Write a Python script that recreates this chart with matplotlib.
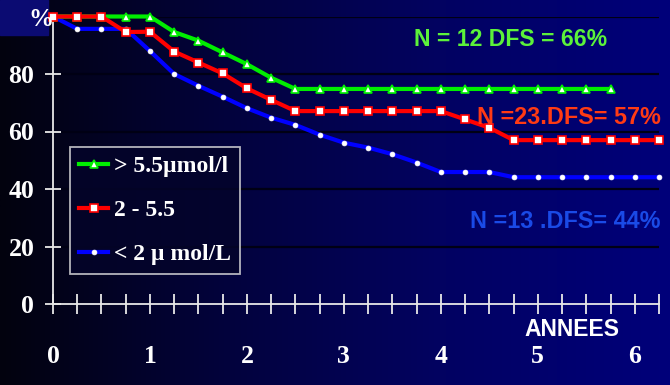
import numpy as np
import matplotlib.pyplot as plt
from matplotlib.colors import LinearSegmentedColormap
from matplotlib.patches import Rectangle

# survival data, read every 0.25 year
years_green = [0, 0.25, 0.5, 0.75, 1, 1.25, 1.5, 1.75, 2, 2.25, 2.5, 2.75, 3, 3.25, 3.5,
               3.75, 4, 4.25, 4.5, 4.75, 5, 5.25, 5.5, 5.75]
dfs_green = [100, 100, 100, 100, 100, 94.6, 91.6, 87.5, 83.4, 78.7, 74.8, 74.8, 74.8, 74.8, 74.8,
             74.8, 74.8, 74.8, 74.8, 74.8, 74.8, 74.8, 74.8, 74.8]

years_red = [0, 0.25, 0.5, 0.75, 1, 1.25, 1.5, 1.75, 2, 2.25, 2.5, 2.75, 3, 3.25, 3.5,
             3.75, 4, 4.25, 4.5, 4.75, 5, 5.25, 5.5, 5.75, 6, 6.25]
dfs_red = [100, 100, 100, 94.6, 94.7, 87.8, 84.0, 80.2, 75.0, 71.0, 67.1, 67.1, 67.1, 67.1, 67.1,
           67.1, 67.1, 64.2, 61.3, 57.0, 57.0, 57.0, 57.0, 57.0, 57.0, 57.0]

years_blue = [0, 0.25, 0.5, 0.75, 1, 1.25, 1.5, 1.75, 2, 2.25, 2.5, 2.75, 3, 3.25, 3.5,
              3.75, 4, 4.25, 4.5, 4.75, 5, 5.25, 5.5, 5.75, 6, 6.25]
dfs_blue = [100, 95.7, 95.7, 95.7, 88.0, 80.0, 75.9, 72.1, 68.1, 64.8, 62.3, 58.9, 56.1, 54.4, 52.1,
            49.2, 45.9, 45.9, 45.9, 44.1, 44.1, 44.1, 44.1, 44.1, 44.1, 44.1]

labels = ['> 5.5\u00b5mol/l', '2 - 5.5', '< 2 \u00b5 mol/L']
x_ticks = [0, 1, 2, 3, 4, 5, 6]
y_ticks = [0, 20, 40, 60, 80]

W, H = 670, 385
fig = plt.figure(figsize=(6.7, 3.85), dpi=100)

# background gradient black -> navy
bg = fig.add_axes([0, 0, 1, 1], zorder=-2)
cmap = LinearSegmentedColormap.from_list('bg', ['#02020e', '#03033c', '#020262', '#00007a'])
bg.imshow(np.linspace(0, 1, 256).reshape(1, -1), cmap=cmap, aspect='auto', extent=[0, 1, 0, 1])
bg.set_xlim(0, 1)
bg.set_ylim(0, 1)
bg.axis('off')
bg.add_patch(Rectangle((0, 1 - 35 / H), 48 / W, 35 / H, color='#0b0b72', zorder=2))

ax = fig.add_axes([53 / W, 81 / H, 606 / W, 287.5 / H])
ax.patch.set_alpha(0)
ax.set_xlim(0, 6.25)
ax.set_ylim(0, 100)

for v in [20, 40, 60, 80, 100]:
    ax.axhline(v, color='#000014', lw=1.6, zorder=0)

for s in ['top', 'right']:
    ax.spines[s].set_visible(False)
for s in ['left', 'bottom']:
    ax.spines[s].set_color('#e8e8e8')
    ax.spines[s].set_linewidth(1.3)

ax.set_xticks(x_ticks)
ax.set_xticks(np.arange(0, 6.26, 0.25), minor=True)
ax.set_yticks(y_ticks)
ax.tick_params(axis='x', which='both', direction='inout', length=15, width=1.3, color='#e8e8e8')
ax.tick_params(axis='x', which='major', pad=22)
ax.tick_params(axis='y', direction='inout', length=11, width=1.3, color='#e8e8e8', pad=8)
for t in ax.get_xticklabels() + ax.get_yticklabels():
    t.set_fontfamily('Liberation Serif')
    t.set_fontweight('bold')
    t.set_fontsize(18.5)
    t.set_color('white')

ax.plot(years_green, dfs_green, color='#00ee00', lw=3, marker='^', ms=5.5,
        mfc='white', mec='#00ee00', mew=1.2, label=labels[0], clip_on=False, zorder=4)
ax.plot(years_red, dfs_red, color='#ff0000', lw=3, marker='s', ms=6,
        mfc='white', mec='#ff0000', mew=1.2, label=labels[1], clip_on=False, zorder=5)
ax.plot(years_blue, dfs_blue, color='#0000ff', lw=3, marker='o', ms=3.5,
        mfc='white', mec='white', mew=0.5, label=labels[2], clip_on=False, zorder=3)

leg = fig.legend(loc='lower left', bbox_to_anchor=(70 / W, 1 - 274 / H), borderaxespad=0,
                 frameon=True, fancybox=False, numpoints=1, handlelength=1.25,
                 labelspacing=0.95, borderpad=0.38, handletextpad=0.25,
                 prop={'family': 'Liberation Serif', 'weight': 'bold', 'size': 17})
leg.get_frame().set_facecolor('#04042a')
leg.get_frame().set_edgecolor('#e0e0e0')
leg.get_frame().set_linewidth(1.3)
for t in leg.get_texts():
    t.set_color('white')

fig.text(41 / W, 1 - 20 / H, '%', ha='center', va='center', color='white',
         family='Liberation Serif', weight='bold', fontsize=18)
fig.text(511 / W, 1 - 40 / H, 'N = 12 DFS = 66%', ha='center', va='center',
         color='#5cf23a', family='Liberation Sans', weight='bold', fontsize=16.6)
fig.text(661 / W, 1 - 117 / H, 'N =23.DFS= 57%', ha='right', va='center',
         color='#ff3a14', family='Liberation Sans', weight='bold', fontsize=16.8)
fig.text(661 / W, 1 - 222 / H, 'N =13 .DFS= 44%', ha='right', va='center',
         color='#1a4ae6', family='Liberation Sans', weight='bold', fontsize=16.8)
fig.text(572 / W, 1 - 329 / H, 'ANNEES', ha='center', va='center',
         color='white', family='Liberation Sans', weight='bold', fontsize=16.5)

fig.savefig('out.png', dpi=100)
